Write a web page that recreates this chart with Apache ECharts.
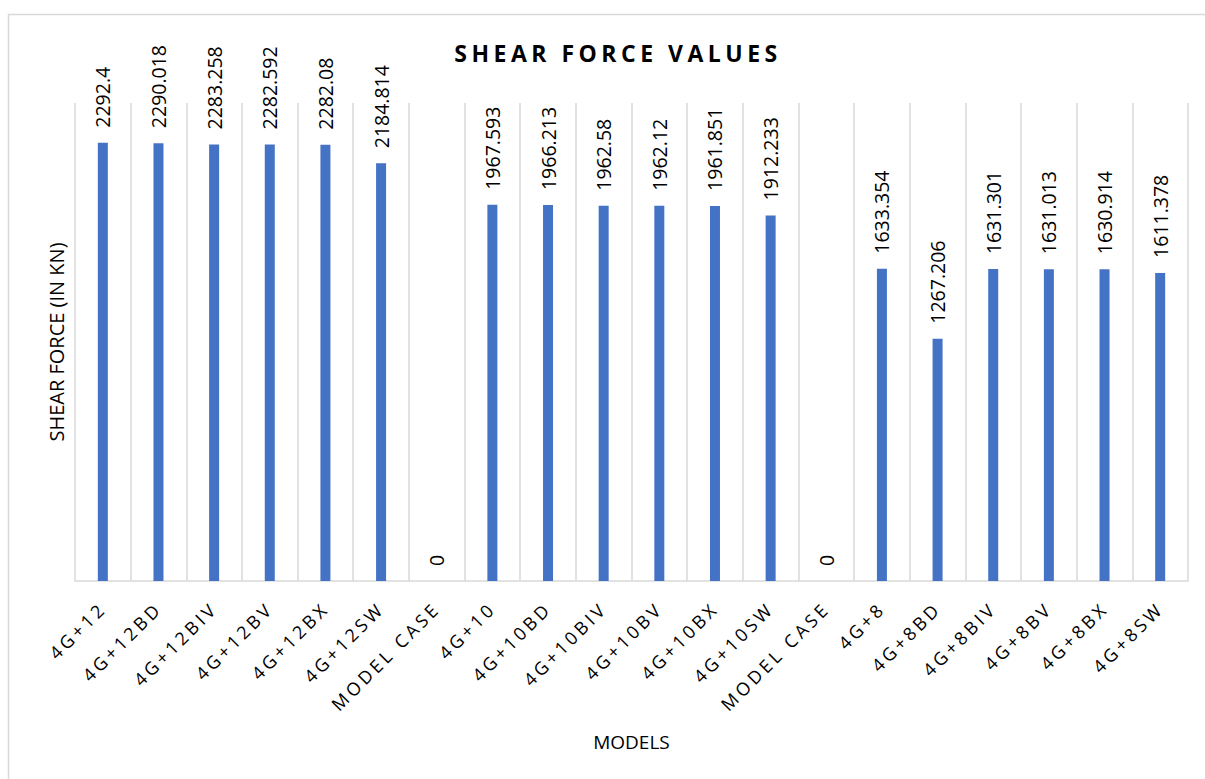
<!DOCTYPE html>
<html>
<head>
<meta charset="utf-8">
<script src="https://cdn.jsdelivr.net/npm/echarts@6/dist/echarts.min.js"></script>
<style>
  html, body { margin: 0; padding: 0; background: #fff; }
  #chart { width: 1205px; height: 779px; }
  text[style*="Arial"] { letter-spacing: 3.5px; }
  text[style*="Verdana"] { letter-spacing: 4.5px; }
</style>
</head>
<body>
<div id="chart"></div>
<script>
const categories = ['4G+12', '4G+12BD', '4G+12BIV', '4G+12BV', '4G+12BX', '4G+12SW', 'MODEL CASE',
  '4G+10', '4G+10BD', '4G+10BIV', '4G+10BV', '4G+10BX', '4G+10SW', 'MODEL CASE',
  '4G+8', '4G+8BD', '4G+8BIV', '4G+8BV', '4G+8BX', '4G+8SW'];
const shearForce = [2292.4, 2290.018, 2283.258, 2282.592, 2282.08, 2184.814, 0,
  1967.593, 1966.213, 1962.58, 1962.12, 1961.851, 1912.233, 0,
  1633.354, 1267.206, 1631.301, 1631.013, 1630.914, 1611.378];
const titleText = 'SHEAR FORCE VALUES';
const xTitle = 'MODELS';
const yTitle = 'SHEAR FORCE (IN KN)';

const chart = echarts.init(document.getElementById('chart'), null, { renderer: 'svg' });
chart.setOption({
  animation: false,
  backgroundColor: '#fff',
  graphic: [
    { type: 'rect', shape: { x: 8.5, y: 14.5, width: 1210, height: 780 },
      style: { fill: 'none', stroke: '#d9d9d9', lineWidth: 1.5 }, silent: true },
    { type: 'text', x: 618, y: 53,
      style: { text: titleText, fontFamily: 'Open Sans,Verdana', fontWeight: 'bold', fontSize: 23,
        fill: '#000', textAlign: 'center', textVerticalAlign: 'middle' } }
  ],
  grid: { left: 75, right: 17, top: 103, bottom: 198 },
  xAxis: {
    type: 'category',
    data: categories,
    boundaryGap: true,
    name: xTitle,
    nameLocation: 'middle',
    nameGap: 151,
    nameTextStyle: { fontFamily: 'Open Sans', fontSize: 19, color: '#000' },
    axisLine: { show: true, lineStyle: { color: '#d9d9d9', width: 1.5 } },
    axisTick: { show: false },
    splitLine: { show: true, lineStyle: { color: '#d9d9d9', width: 1.5 } },
    axisLabel: { rotate: 45, interval: 0, margin: 24, fontFamily: 'Open Sans,Arial', fontSize: 18, color: '#000' }
  },
  yAxis: {
    type: 'value',
    min: 0, max: 2500, interval: 500,
    name: yTitle,
    nameLocation: 'middle',
    nameGap: 9,
    nameRotate: 90,
    nameTextStyle: { fontFamily: 'Open Sans', fontSize: 20, color: '#000' },
    axisLine: { show: false },
    axisTick: { show: false },
    axisLabel: { show: false },
    splitLine: { show: false }
  },
  series: [{
    type: 'bar',
    data: shearForce,
    barWidth: 10,
    itemStyle: { color: '#4472c4' },
    label: {
      show: true,
      position: 'top',
      rotate: 90,
      align: 'left',
      verticalAlign: 'middle',
      distance: 15,
      fontFamily: 'Open Sans',
      fontSize: 19.5,
      color: '#000'
    }
  }]
});
</script>
</body>
</html>
